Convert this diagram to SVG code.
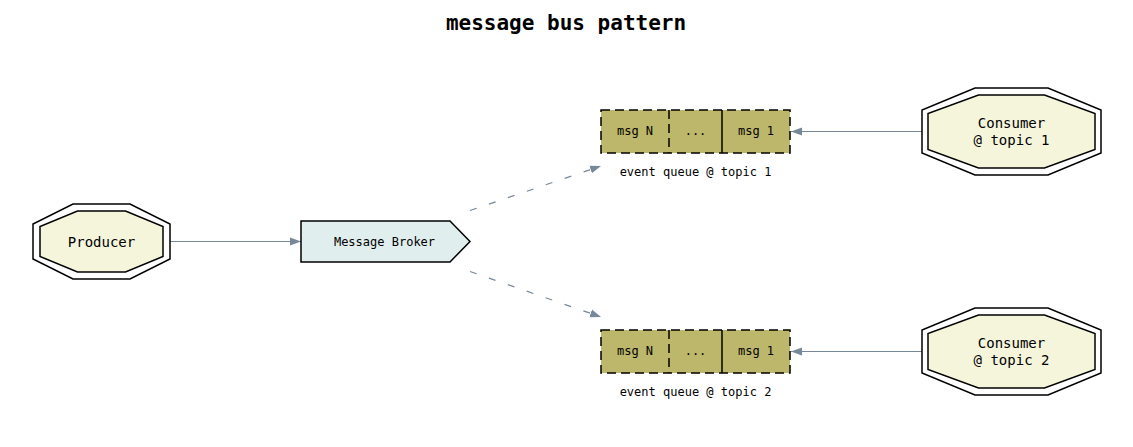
<svg xmlns="http://www.w3.org/2000/svg" width="1133" height="447" viewBox="0 0 1133 447">
<defs>
<style>
.oct{fill:#f5f5dc;stroke:#000;stroke-width:1.5}
.octo{fill:none;stroke:#000;stroke-width:1.5}
.cell{fill:#bdb76b;stroke:#000;stroke-width:1.5;stroke-dasharray:9,5}
.t{font-family:"DejaVu Sans Mono","Liberation Mono",monospace;fill:#000;text-anchor:middle}
.edge{fill:none;stroke:#778899;stroke-width:1.2}
.dash{stroke-dasharray:7,13}
</style>
<marker id="ah" markerUnits="userSpaceOnUse" markerWidth="12" markerHeight="10" viewBox="0 0 12 10" refX="11" refY="5" orient="auto">
<path d="M0,1 L11,5 L0,9 Z" fill="#778899"/>
</marker>
</defs>
<rect width="1133" height="447" fill="#fff"/>
<text x="566" y="30" class="t" style="font-size:21px;font-weight:bold">message bus pattern</text>

<g id="connectors">
<line class="edge" x1="170" y1="241.5" x2="301" y2="241.5" marker-end="url(#ah)"/>
<line class="edge dash" x1="470" y1="210.5" x2="601" y2="166" marker-end="url(#ah)"/>
<line class="edge dash" x1="470" y1="271.5" x2="601" y2="317" marker-end="url(#ah)"/>
<line class="edge" x1="922" y1="131.5" x2="791" y2="131.5" marker-end="url(#ah)"/>
<line class="edge" x1="922" y1="351.5" x2="791" y2="351.5" marker-end="url(#ah)"/>
</g>

<g id="producer">
<polygon class="octo" points="73,204 130,204 170,224 170,259 130,279 73,279 33,259 33,224"/>
<polygon class="oct" points="77.5,211 125.5,211 163,226.5 163,256.5 125.5,272 77.5,272 40,256.5 40,226.5"/>
<text x="101.5" y="246.5" class="t" style="font-size:14px">Producer</text>
</g>

<g id="broker">
<polygon points="301,221 450,221 470,241.5 450,262 301,262" fill="#e0eeee" stroke="#000" stroke-width="1.5"/>
<text x="384.5" y="245.5" class="t" style="font-size:12px">Message Broker</text>
</g>

<g id="queue1">
<rect class="cell" x="601" y="110" width="189" height="43"/>
<line x1="669" y1="110" x2="669" y2="153" stroke="#000" stroke-width="1.5" stroke-dasharray="9,5"/>
<line x1="722" y1="110" x2="722" y2="153" stroke="#000" stroke-width="1.5"/>
<text x="635" y="135" class="t" style="font-size:12px">msg N</text>
<text x="695.5" y="135" class="t" style="font-size:12px">...</text>
<text x="756" y="135" class="t" style="font-size:12px">msg 1</text>
<text x="695.5" y="176" class="t" style="font-size:12px">event queue @ topic 1</text>
</g>

<g id="queue2">
<rect class="cell" x="601" y="330" width="189" height="43"/>
<line x1="669" y1="330" x2="669" y2="373" stroke="#000" stroke-width="1.5" stroke-dasharray="9,5"/>
<line x1="722" y1="330" x2="722" y2="373" stroke="#000" stroke-width="1.5"/>
<text x="635" y="355" class="t" style="font-size:12px">msg N</text>
<text x="695.5" y="355" class="t" style="font-size:12px">...</text>
<text x="756" y="355" class="t" style="font-size:12px">msg 1</text>
<text x="695.5" y="396" class="t" style="font-size:12px">event queue @ topic 2</text>
</g>

<g id="consumer1">
<polygon class="octo" points="975,88 1048,88 1101,110 1101,153 1048,175 975,175 922,153 922,110"/>
<polygon class="oct" points="978.5,95 1044.5,95 1095,113.5 1095,149.5 1044.5,168 978.5,168 928,149.5 928,113.5"/>
<text x="1011.5" y="128" class="t" style="font-size:14px">Consumer</text>
<text x="1011.5" y="145" class="t" style="font-size:14px">@ topic 1</text>
</g>

<g id="consumer2">
<polygon class="octo" points="975,308 1048,308 1101,330 1101,373 1048,395 975,395 922,373 922,330"/>
<polygon class="oct" points="978.5,315 1044.5,315 1095,333.5 1095,369.5 1044.5,388 978.5,388 928,369.5 928,333.5"/>
<text x="1011.5" y="348" class="t" style="font-size:14px">Consumer</text>
<text x="1011.5" y="365" class="t" style="font-size:14px">@ topic 2</text>
</g>
</svg>
